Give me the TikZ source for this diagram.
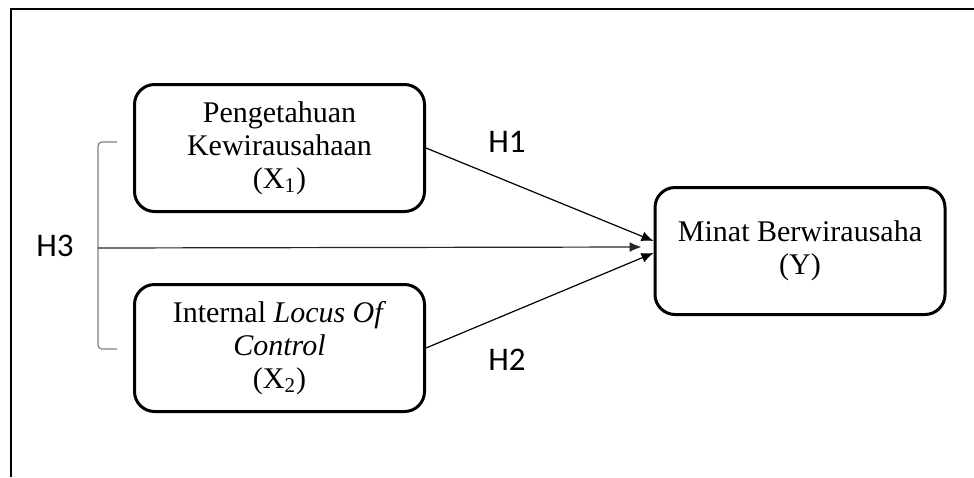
\documentclass[tikz,border=0pt]{standalone}
\usepackage{fontspec}
\setmainfont{Liberation Serif}
\newfontfamily\hypfont{Carlito}
\usetikzlibrary{arrows.meta}

\begin{document}
\begin{tikzpicture}[x = 0.5pt, y = -0.5pt,
                    var/.style = {draw, line width = 1.5pt, rounded corners = 10pt,
                                  minimum width = 145pt, minimum height = 63.5pt,
                                  align = center, font = \fontsize{15}{16.5}\selectfont},
                    hyp/.style = {font = \hypfont\fontsize{16.5}{18}\selectfont},
                    link/.style = {line width = 0.6pt, -{Latex[length = 6pt, width = 5pt]}}]
      \useasboundingbox (0, 0) rectangle (974, 477);
      \draw [line width = 1pt] (11, 477) -- (11, 9) -- (974, 9);

      \node [var] (x1) at (279.5, 148){Pengetahuan\\Kewirausahaan\\(X\textsubscript{1})};
      \node [var] (x2) at (279.5, 348){Internal \textit{Locus Of}\\\textit{Control}\\(X\textsubscript{2})};
      \node [var] (y) at (800, 251){Minat Berwirausaha\\(Y)};

      \draw [gray, line width = 0.6pt, rounded corners = 2pt] (117, 142) -- (98, 142) -- (98, 349) -- (117, 349);
      \coordinate (b) at (98, 248);

      \draw [link] (x1.east) -- ([yshift = 5pt]y.west);
      \draw [link] (x2.east) -- ([yshift = -1pt]y.west);
      \draw [link, black!85] (b) -- ([xshift = -6pt, yshift = 2pt]y.west);

      \node [hyp] (h1) at (507, 142){H1};
      \node [hyp] (h2) at (507, 360){H2};
      \node [hyp] (h3) at (55, 246){H3};
\end{tikzpicture}
\end{document}
